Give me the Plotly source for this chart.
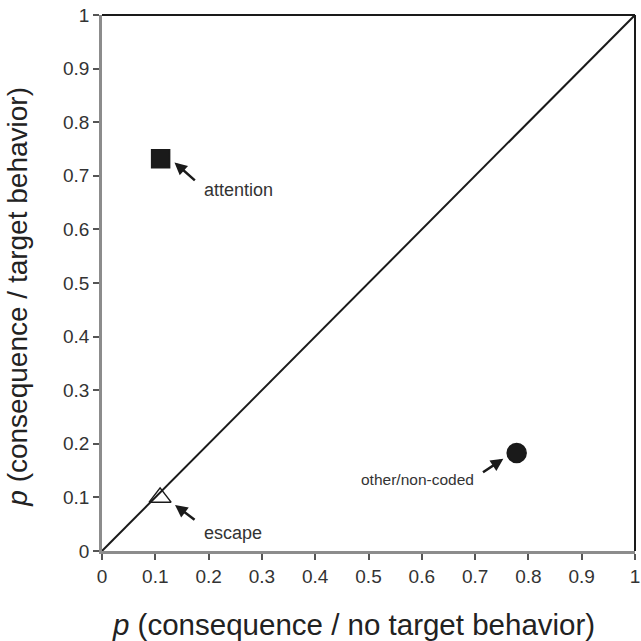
import plotly.graph_objects as go

# Data
labels = ["attention", "escape", "other/non-coded"]
x_vals = [0.110, 0.109, 0.778]
y_vals = [0.732, 0.100, 0.183]
symbols = ["square", "triangle-up-open", "circle"]
sizes = [18, 19, 19]

diag_x = [0, 1]
diag_y = [0, 1]

tick_vals = [0, 0.1, 0.2, 0.3, 0.4, 0.5, 0.6, 0.7, 0.8, 0.9, 1]
tick_text = ["0", "0.1", "0.2", "0.3", "0.4", "0.5", "0.6", "0.7", "0.8", "0.9", "1"]

x_title = "<i>p</i> (consequence / no target behavior)"
y_title = "<i>p</i> (consequence / target behavior)"

# annotation label anchor (data coords), arrow tail and head
text_pos = {"attention": (0.188, 0.673), "escape": (0.188, 0.033), "other/non-coded": (0.701, 0.134)}
text_anchor = {"attention": "left", "escape": "left", "other/non-coded": "right"}
text_size = {"attention": 18, "escape": 18, "other/non-coded": 15.5}
arrow_tail = {"attention": (0.177, 0.689), "escape": (0.1765, 0.056), "other/non-coded": (0.712, 0.145)}
arrow_head = {"attention": (0.136, 0.725), "escape": (0.137, 0.086), "other/non-coded": (0.753, 0.172)}

FONT = "Liberation Sans, Arial, Helvetica"

fig = go.Figure()
fig.add_trace(go.Scatter(x=diag_x, y=diag_y, mode="lines",
                         line=dict(color="#1a1a1a", width=2), showlegend=False, hoverinfo="skip"))
for lab, xv, yv, sym, sz in zip(labels, x_vals, y_vals, symbols, sizes):
    fig.add_trace(go.Scatter(x=[xv], y=[yv], mode="markers", name=lab, showlegend=False,
                             marker=dict(symbol=sym, size=sz, color="#1a1a1a",
                                         line=dict(color="#1a1a1a", width=1.5))))
    hx, hy = arrow_head[lab]
    tx, ty = arrow_tail[lab]
    fig.add_annotation(x=hx, y=hy, ax=tx, ay=ty, xref="x", yref="y", axref="x", ayref="y",
                       showarrow=True, arrowhead=2, arrowsize=1.0, arrowwidth=2.5,
                       arrowcolor="#1a1a1a", text="")
    px, py = text_pos[lab]
    fig.add_annotation(x=px, y=py, xref="x", yref="y", text=lab, showarrow=False,
                       xanchor=text_anchor[lab], yanchor="middle",
                       font=dict(family=FONT, size=text_size[lab], color="#333"))

axis_common = dict(range=[0, 1], tickvals=tick_vals, ticktext=tick_text, showgrid=False,
                   zeroline=False, showline=True, linecolor="#8c8c8c", linewidth=2.5,
                   ticks="outside", ticklen=6, tickwidth=2, tickcolor="#555",
                   ticklabeloverflow="allow",
                   tickfont=dict(family=FONT, size=19, color="#333"))

fig.update_xaxes(**axis_common)
fig.update_yaxes(**axis_common)

# axis titles as annotations (offset like the reference)
fig.add_annotation(x=0.472, y=-0.138, xref="paper", yref="paper", text=x_title,
                   showarrow=False, xanchor="center", yanchor="middle",
                   font=dict(family=FONT, size=29.5, color="#222"))
fig.add_annotation(x=-0.158, y=0.474, xref="paper", yref="paper", text=y_title,
                   showarrow=False, xanchor="center", yanchor="middle", textangle=-90,
                   font=dict(family=FONT, size=28, color="#222"))

# top and right black borders
fig.add_shape(type="line", xref="paper", yref="paper", x0=0, x1=1, y0=1, y1=1,
              line=dict(color="#1a1a1a", width=2))
fig.add_shape(type="line", xref="paper", yref="paper", x0=1, x1=1, y0=0, y1=1,
              line=dict(color="#1a1a1a", width=2))

fig.update_layout(width=641, height=641, margin=dict(l=102, r=1, t=15, b=90),
                  plot_bgcolor="white", paper_bgcolor="white")

fig.write_html("out.html", config={"displayModeBar": False},
               post_script="document.body.style.margin='0';document.body.style.overflow='hidden';")
